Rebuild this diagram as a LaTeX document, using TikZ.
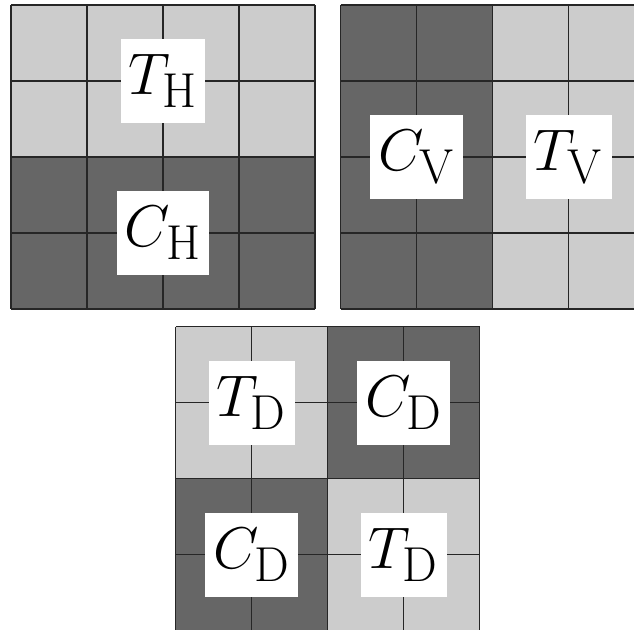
\documentclass[tikz,border=0pt]{standalone}
\usetikzlibrary{positioning}
\newcommand{\lbl}[2]{\scalebox{0.885}{$#1_{\mathrm{#2}}$}}

\begin{document}
\begin{tikzpicture}[
    x=1cm, y=-1cm,
    light/.style={fill=black!20},
    dark/.style={fill=black!60},
    gridline/.style={draw=black!85, line width=0.5pt},
    tag/.style={fill=white, inner xsep=3pt, inner ysep=0pt, minimum height=1.105cm, font=\Huge}
]

\useasboundingbox (0,0) rectangle (8.342,8.289);
\clip (0,0) rectangle (8.342,8.289);

% Horizontal split
\begin{scope}[shift={(0.145,0.066)}]
\fill[light] (0,0) rectangle (4,2);
\fill[dark] (0,2) rectangle (4,4);
\draw[gridline] (0,0) grid (4,4);
\node[tag] (th) at (2,1) {\lbl{T}{H}};
\node[tag] (ch) at (2,3) {\lbl{C}{H}};
\end{scope}

% Vertical split
\begin{scope}[shift={(4.483,0.066)}]
\fill[dark] (0,0) rectangle (2,4);
\fill[light] (2,0) rectangle (4,4);
\draw[gridline] (0,0) grid (4,4);
\node[tag] (cv) at (1,2) {\lbl{C}{V}};
\node[tag] (tv) at (3,2) {\lbl{T}{V}};
\end{scope}

% Diagonal split
\begin{scope}[shift={(2.312,4.299)}]
\foreach \i/\j/\s in {0/0/light, 2/0/dark, 0/2/dark, 2/2/light}
    \fill[\s] (\i,\j) rectangle ++(2,2);
\draw[gridline] (0,0) grid (4,4);
\node[tag] (td1) at (1,1) {\lbl{T}{D}};
\node[tag] (cd1) at (3,1) {\lbl{C}{D}};
\node[tag] (cd2) at (1,3) {\lbl{C}{D}};
\node[tag] (td2) at (3,3) {\lbl{T}{D}};
\end{scope}

\end{tikzpicture}
\end{document}
